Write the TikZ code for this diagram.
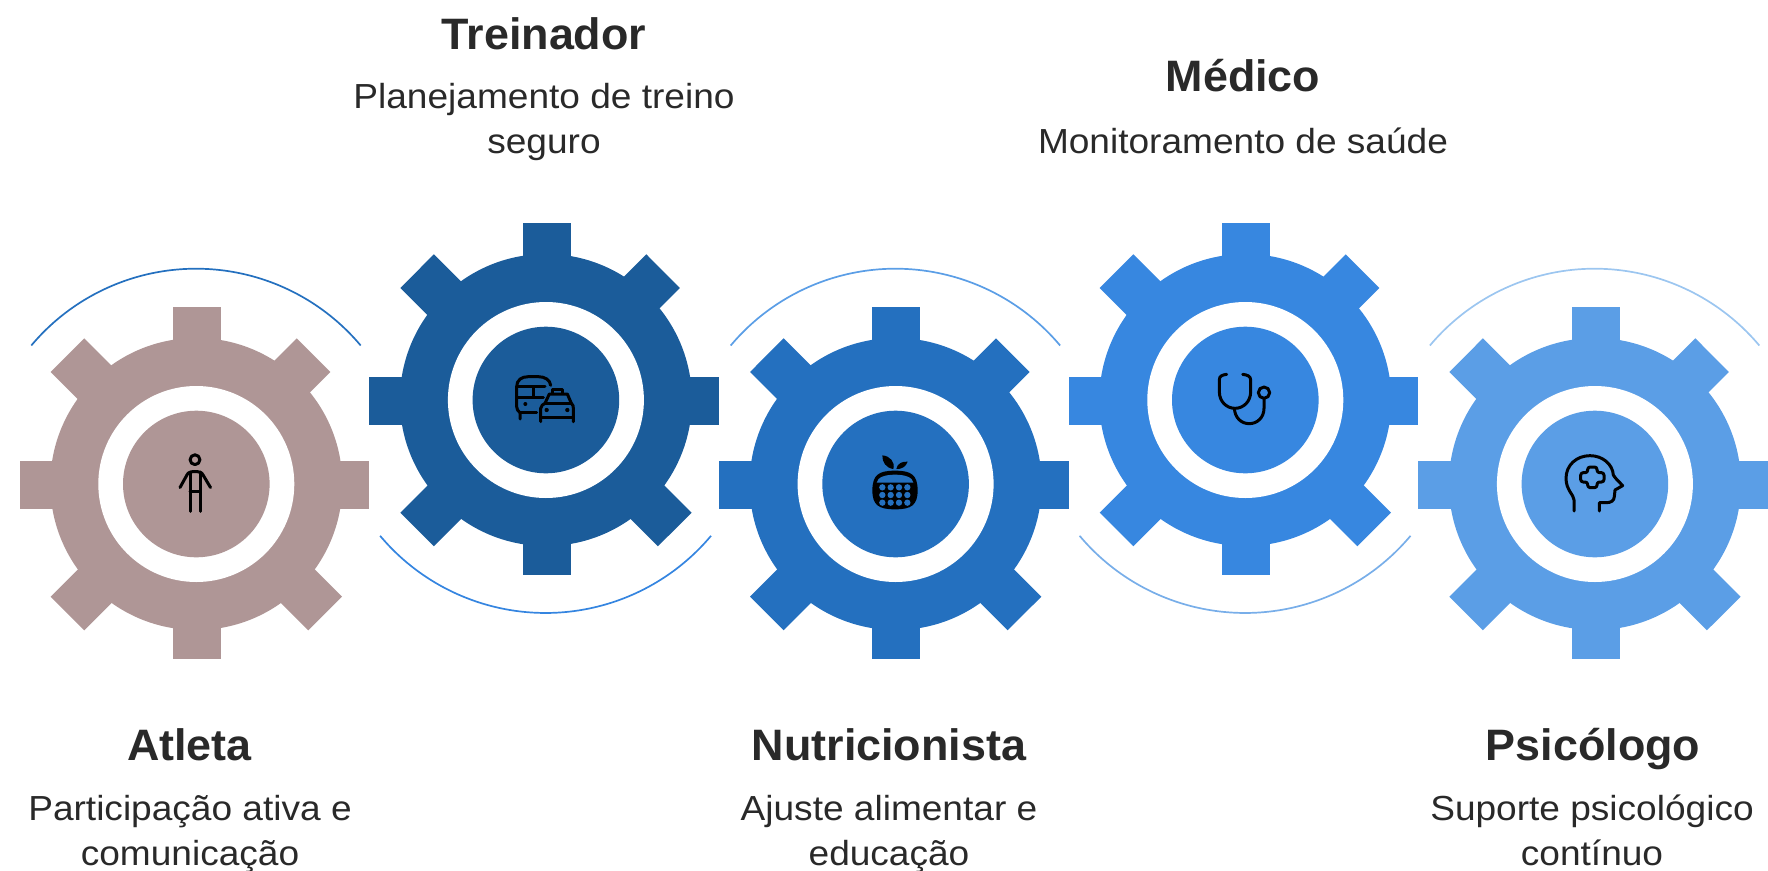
\documentclass[tikz,border=0pt]{standalone}
\usepackage{fontspec}
\setmainfont{Liberation Sans}[FakeStretch=1.065,BoldFeatures={FakeStretch=1.02}]
\definecolor{gearA}{HTML}{AF9696}
\definecolor{gearB}{HTML}{1B5C9A}
\definecolor{gearC}{HTML}{2470BF}
\definecolor{gearD}{HTML}{3787E0}
\definecolor{gearE}{HTML}{5B9EE6}
\definecolor{arcA}{HTML}{2470BF}
\definecolor{arcB}{HTML}{3585E0}
\definecolor{arcC}{HTML}{5B9EE6}
\definecolor{arcD}{HTML}{78AEE9}
\definecolor{arcE}{HTML}{9CC6F0}
\definecolor{ink}{HTML}{292929}
\tikzset{
  head/.style={anchor=base,text=ink,inner sep=0pt,font=\bfseries\fontsize{44}{46}\selectfont},
  body/.style={anchor=base,text=ink,inner sep=0pt,align=center,font=\fontsize{34.8}{46}\selectfont},
  glyph/.style={draw=black,line width=3pt,line cap=round,line join=round},
  arcline/.style={line width=1.7pt},
}
\newcommand\gearat[3]{%
 \begin{scope}[shift={(#1,#2)}]
  \fill[#3] (-24,-176.7) rectangle (24,-100);
  \fill[#3] (-24,174.7) rectangle (24,100);
  \fill[#3] (-177.3,-23.3) rectangle (-100,24.7);
  \fill[#3] (172.3,-23.3) rectangle (100,24.7);
  \fill[#3] (-112.7,-145.7) -- (-146.3,-112) -- (-96.3,-62) -- (-62.7,-95.7) -- cycle;
  \fill[#3] (99.7,-145.7) -- (133.3,-112) -- (83.3,-62) -- (49.7,-95.7) -- cycle;
  \fill[#3] (-146.3,112.7) -- (-112.7,146.3) -- (-62.7,96.3) -- (-96.3,62.7) -- cycle;
  \fill[#3] (145,112.7) -- (111.3,146.3) -- (61.3,96.3) -- (95,62.7) -- cycle;
  \fill[#3] (-0.7,0) circle[radius=146];
  \fill[white] (-0.7,0) circle[radius=98];
  \fill[#3] (-0.7,0) circle[radius=73.3];
 \end{scope}}
\begin{document}
\begin{tikzpicture}[x=1pt,y=-1pt]
\useasboundingbox (0,0) rectangle (1768,870);
% arcs
\draw[arcline,arcA] (196-164.7,483.7-138.2) arc[start angle=220,end angle=320,radius=215];
\draw[arcline,arcB] (545.5-165.4,397+138.8) arc[start angle=140,end angle=40,radius=216];
\draw[arcline,arcC] (895.4-164.7,483.7-138.2) arc[start angle=220,end angle=320,radius=215];
\draw[arcline,arcD] (1245-165.4,397+138.8) arc[start angle=140,end angle=40,radius=216];
\draw[arcline,arcE] (1594.6-164.7,483.7-138.2) arc[start angle=220,end angle=320,radius=215];
% gears
\gearat{197}{484}{gearA}
\gearat{546.6}{400}{gearB}
\gearat{896.3}{484}{gearC}
\gearat{1246}{400}{gearD}
\gearat{1595.6}{484}{gearE}
% person icon
\begin{scope}[glyph]
\draw (195,459.7) circle[radius=4.9];
\draw (180,487.5) -- (187.2,474.5) .. controls (188.5,470.5) and (201.5,470.5) .. (202.8,474.5) -- (210.5,487.5);
\draw (190,472) -- (190,511.3);
\draw (200,472) -- (200,511.3);
\draw (190,491.7) -- (200,491.7);
\end{scope}
% bus and taxi icon
\begin{scope}[shift={(490,370)},x=0.3333pt,y=-0.3333pt,glyph]
\draw (90,147) -- (90,128) .. controls (84,124) and (80,118) .. (80,110) -- (80,50) .. controls (80,30) and (95,20) .. (115,20) -- (145,20) .. controls (165,20) and (180,30) .. (182,46);
\draw (80,50) -- (165,50);
\draw (130,50) -- (130,82);
\draw (80,82) -- (160,82);
\draw (90,128) -- (140,128);
\fill[black,draw=none] (106,102) circle[radius=6];
\draw (152,155) -- (152,115) .. controls (152,108) and (160,102) .. (165,100) -- (178,72) -- (232,72) -- (244,100) .. controls (250,104) and (250,110) .. (250,115) -- (250,155);
\draw (152,142) -- (250,142);
\draw (165,100) -- (244,100);
\draw (188,70) -- (188,58) -- (218,58) -- (218,70);
\fill[black,draw=none] (170,120) circle[radius=6.5];
\fill[black,draw=none] (232,120) circle[radius=6.5];
\end{scope}
% food icon
\begin{scope}[shift={(850,440)},x=0.3333pt,y=-0.3333pt]
\fill[black] (135,92) .. controls (185,92) and (202,105) .. (203,150) .. controls (203,195) and (185,208) .. (135,208) .. controls (85,208) and (67,195) .. (67,150) .. controls (68,105) and (85,92) .. (135,92) -- cycle;
\fill[gearC] (80,128) .. controls (82,112) and (105,104) .. (135,104) .. controls (165,104) and (188,112) .. (190,128) -- cycle;
\foreach \yy in {142,165,188}{\foreach \xx in {97,122,147,172}{\fill[gearC] (\xx,\yy) circle[radius=9.5];}}
\fill[black] (130,87) .. controls (108,84) and (96,66) .. (97,46) .. controls (120,48) and (136,66) .. (130,87) -- cycle;
\fill[black] (139,87) .. controls (142,70) and (156,64) .. (173,65) .. controls (168,80) and (155,88) .. (139,87) -- cycle;
\end{scope}
% stethoscope icon
\begin{scope}[shift={(1200,360)},x=0.3333pt,y=-0.3333pt,glyph]
\draw (80,43) .. controls (66,45) and (58,48) .. (58,60) -- (58,95) .. controls (58,125) and (80,145) .. (105,145) .. controls (130,145) and (152,125) .. (152,95) -- (152,60) .. controls (152,48) and (142,45) .. (128,43);
\draw (103,145) .. controls (105,175) and (125,191) .. (148,191) .. controls (172,191) and (192,172) .. (192,145) -- (192,115);
\draw (192,98) circle[radius=17];
\end{scope}
% head icon
\begin{scope}[shift={(1550,445)},x=0.3333pt,y=-0.3333pt,glyph]
\draw (72,198) -- (72,165) .. controls (72,150) and (48,135) .. (48,100) .. controls (48,60) and (80,32) .. (120,32) .. controls (158,32) and (188,58) .. (190,90) .. controls (195,100) and (212,115) .. (218,122) -- (195,135) -- (193,155) .. controls (192,168) and (182,173) .. (170,173) -- (148,173) -- (148,198);
\draw[rounded corners=2.5pt] (113,66) -- (141,66) -- (141,83) -- (162,83) -- (162,111) -- (141,111) -- (141,128) -- (113,128) -- (113,111) -- (92,111) -- (92,83) -- (113,83) -- cycle;
\end{scope}
% texts
\node[head] (t1) at (189.5,760) {Atleta};
\node[body] (d1) at (190,820) {Participação ativa e};
\node[body] (d1b) at (190,865) {comunicação};
\node[head] (t2) at (544,49) {Treinador};
\node[body] (d2) at (544,108) {Planejamento de treino};
\node[body] (d2b) at (544,153) {seguro};
\node[head] (t3) at (889,760) {Nutricionista};
\node[body] (d3) at (889,820) {Ajuste alimentar e};
\node[body] (d3b) at (889,865) {educação};
\node[head] (t4) at (1243,91) {Médico};
\node[body] (d4) at (1243,153) {Monitoramento de saúde};
\node[head] (t5) at (1593,760) {Psicólogo};
\node[body] (d5) at (1592,820) {Suporte psicológico};
\node[body] (d5b) at (1592,865) {contínuo};
\end{tikzpicture}
\end{document}
